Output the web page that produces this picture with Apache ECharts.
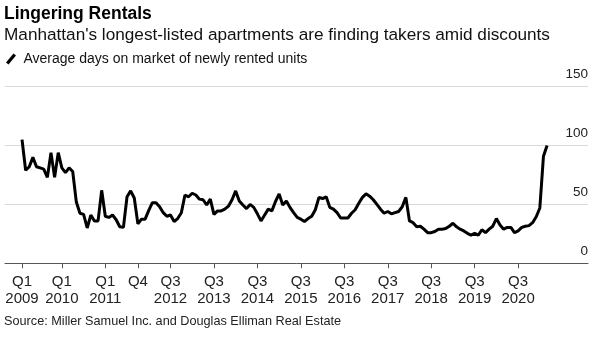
<!DOCTYPE html>
<html><head><meta charset="utf-8">
<script src="https://cdn.jsdelivr.net/npm/echarts@6/dist/echarts.min.js"></script>
<style>html,body{margin:0;padding:0;background:#fff}#c{width:600px;height:337px}</style>
</head><body><div id="c"></div>
<script>
// Months counted from Jan 2009 (= 0); first observation is month 1
const startMonth = 1;
const daysOnMarket = [
  105, 79, 82, 90, 82, 81, 80, 73, 94, 73, 94, 81,
  77, 81, 78, 52, 42.5, 41.5, 30, 41, 36, 36, 62, 40,
  39, 41, 37, 31, 30.5, 56.5, 61.5, 55.5, 33.5, 37.5, 37.5, 45,
  51.5, 51.5, 48, 43, 40, 41, 35.5, 38, 43, 58, 56.5, 59.5,
  58, 54.5, 54, 49.5, 54.5, 41.5, 44.5, 44.5, 46, 48.5, 54, 61.5,
  53, 49.5, 46.5, 50, 47.5, 42, 36, 41, 46, 44.5, 52.5, 59,
  49.5, 53, 47.5, 43, 39, 37.5, 35.5, 38, 40, 45.5, 56, 55,
  56.5, 47.5, 46, 43, 38.5, 38.5, 38.5, 42.5, 45.5, 51, 56, 59,
  57, 54, 50, 46, 42.5, 44, 42, 43, 44, 48, 56, 36,
  34.5, 31, 31.5, 29, 26, 26, 27, 29, 29, 29.5, 31.5, 34,
  31, 29, 27.5, 25.5, 24, 25.5, 24, 28.5, 26, 29, 31.5, 38,
  32.5, 29, 30.5, 30.5, 26, 27.5, 30.5, 31.5, 32, 34.5, 39.5, 47,
  91, 100
];
const tickMonths = [1, 12, 24, 33, 42, 54, 66, 78, 90, 102, 114, 126, 138];
const tickLabels = ['Q1\n2009', 'Q1\n2010', 'Q1\n2011', 'Q4', 'Q3\n2012', 'Q3\n2013', 'Q3\n2014',
  'Q3\n2015', 'Q3\n2016', 'Q3\n2017', 'Q3\n2018', 'Q3\n2019', 'Q3\n2020'];
const yTicks = [0, 50, 100, 150];
const seriesName = 'Average days on market of newly rented units';
const titleText = 'Lingering Rentals';
const subtitleText = "Manhattan's longest-listed apartments are finding takers amid discounts";
const sourceText = 'Source: Miller Samuel Inc. and Douglas Elliman Real Estate';

const FONT = '"Liberation Sans", Arial, Helvetica, sans-serif';
const chart = echarts.init(document.getElementById('c'));
chart.setOption({
  animation: false,
  textStyle: { fontFamily: FONT },
  title: {
    text: titleText, subtext: subtitleText, left: 4, top: 4, padding: 0, itemGap: 1,
    textStyle: { fontSize: 17.5, fontWeight: 'bold', color: '#000', lineHeight: 20, fontFamily: FONT },
    subtextStyle: { fontSize: 17.2, color: '#111', lineHeight: 20, fontFamily: FONT }
  },
  legend: {
    left: 6, top: 52, padding: 0, itemWidth: 11, itemHeight: 11, itemGap: 6,
    icon: 'path://M0,9 L7.5,0 L10,2 L2.5,11 Z',
    textStyle: { fontSize: 14, color: '#111', fontFamily: FONT, padding: [0, 0, 0, 2] },
    data: [seriesName]
  },
  grid: { left: 5, right: 12, top: 86.7, bottom: 73.7, containLabel: false },
  xAxis: {
    type: 'value', min: -3.7, max: 157.3,
    axisLine: { show: true, lineStyle: { color: '#555', width: 1 } },
    axisTick: { show: true, customValues: tickMonths, length: 5, lineStyle: { color: '#555' } },
    axisLabel: {
      customValues: tickMonths,
      formatter: v => tickLabels[tickMonths.indexOf(v)] || '',
      fontSize: 15, color: '#222', lineHeight: 17, margin: 10, fontFamily: FONT
    },
    splitLine: { show: false }
  },
  yAxis: {
    type: 'value', position: 'right', min: yTicks[0], max: yTicks[yTicks.length - 1], interval: 50,
    axisLine: { show: false }, axisTick: { show: false },
    splitLine: { show: true, lineStyle: { color: '#d9d9d9', width: 1 } },
    axisLabel: { inside: true, margin: 0, verticalAlign: 'bottom', padding: [0, 0, 5, 0],
      fontSize: 13.5, color: '#222', fontFamily: FONT }
  },
  graphic: [{
    type: 'text', left: 4, top: 315,
    style: { text: sourceText, fontSize: 12.7, fill: '#222', font: '12.7px ' + FONT }
  }],
  series: [{
    name: seriesName, type: 'line', showSymbol: false, symbol: 'none',
    lineStyle: { color: '#000', width: 3 }, itemStyle: { color: '#000' },
    data: daysOnMarket.map((v, i) => [startMonth + i, v])
  }]
});
</script></body></html>
